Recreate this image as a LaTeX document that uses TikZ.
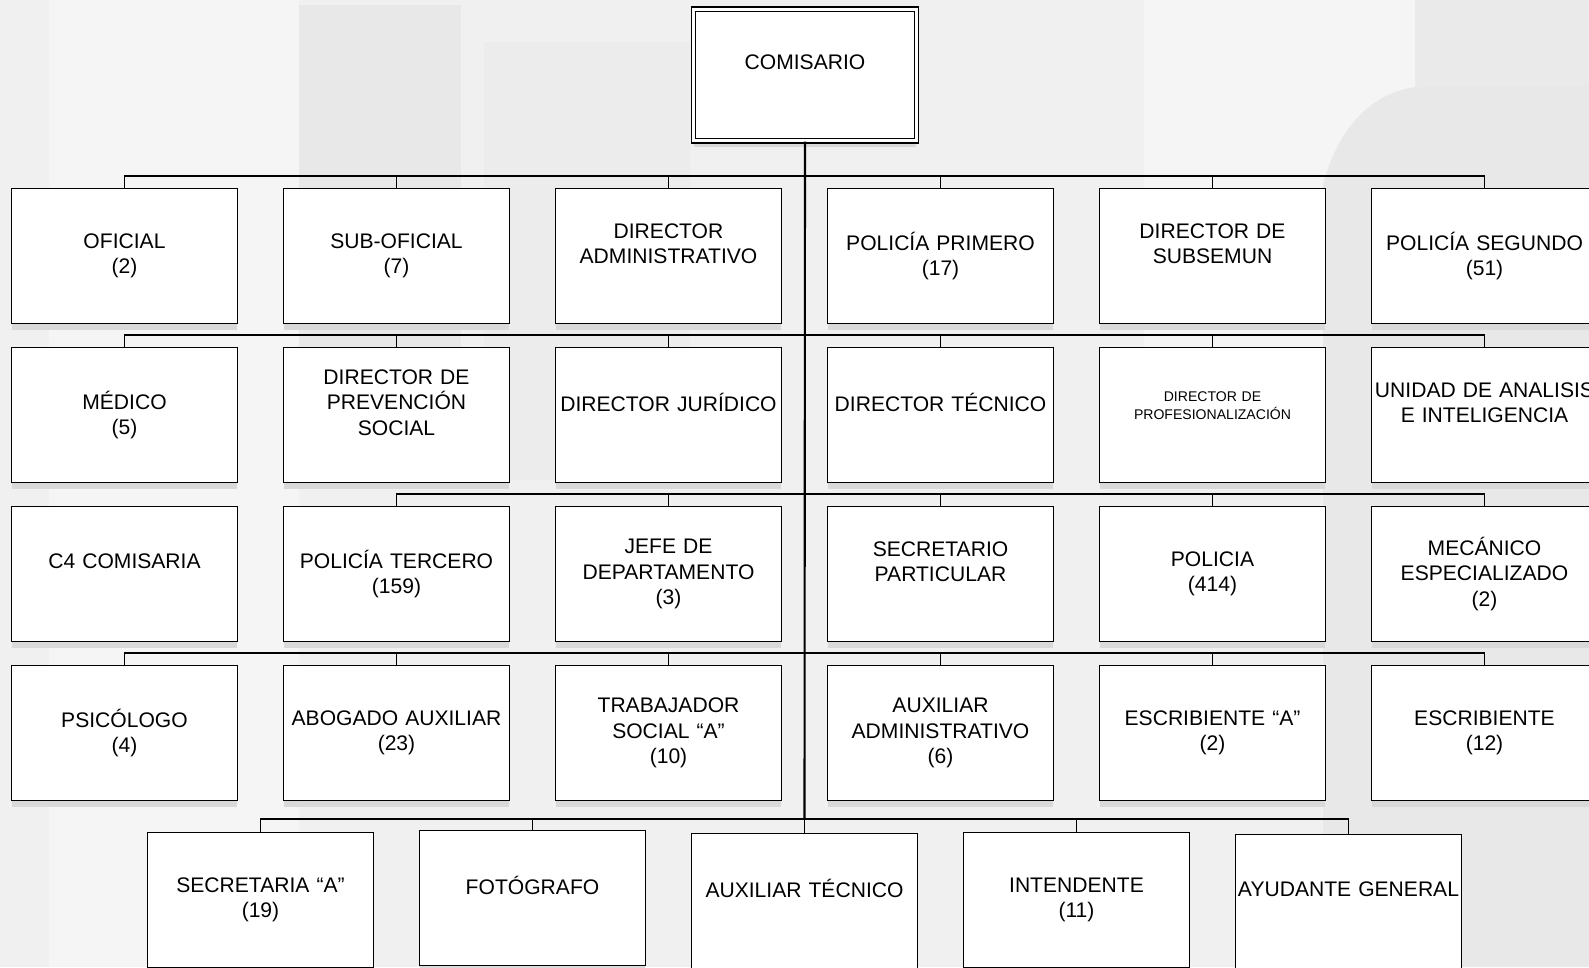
\documentclass[tikz,border=0pt]{standalone}
\usepackage{fontspec}
\setmainfont{Liberation Sans}
\usepackage{xcolor}
\usetikzlibrary{shadows}
\definecolor{fondo}{HTML}{F0F0F0}
\definecolor{fondoclaro}{HTML}{F5F5F5}
\definecolor{fondoosc}{HTML}{E8E8E8}
\tikzset{
  puesto/.style={
    draw,
    line width=0.8pt,
    fill=white,
    minimum width=4.52cm,
    minimum height=2.7cm,
    text width=4.52cm,
    align=center,
    inner sep=0pt,
    font=\fontsize{12pt}{14.4pt}\selectfont,
    drop shadow={shadow xshift=0pt, shadow yshift=-0.13cm, fill=black!15, opacity=1}
  },
}
\tikzset{
  jefe/.style={
    puesto,
    double,
    line width=0.6pt,
    double distance=1.7pt,
    minimum width=4.45cm,
    minimum height=2.64cm,
    text width=4.4cm
  },
  chico/.style={
    font=\fontsize{8pt}{10.6pt}\selectfont
  },
  bus/.style={
    line width=0.6pt
  },
  eje/.style={
    line width=1.2pt
  }
}

\begin{document}
\begin{tikzpicture}[x=0.02cm,y=-0.02cm]

         \useasboundingbox (0,0) rectangle (1589,967);
         \clip (0,0) rectangle (1589,967);

         % fondo
         \fill[fondo] (0,0) rectangle (1589,967);
         \fill[fondoclaro] (49,0) rectangle (299,967);
         \fill[fondoosc] (299,5) rectangle (461,480);
         \fill[fondoosc!50!fondo] (484,42) rectangle (690,480);
         \fill[fondoclaro] (1144,0) rectangle (1415,480);
         \fill[fondoosc!70!fondo] (1415,0) rectangle (1589,86);
         \fill[fondoosc] (1323,967) -- (1323,185) .. controls (1340,120) and (1380,86) .. (1430,86) -- (1589,86) -- (1589,967) -- cycle;

         \node[jefe] (comisario) at (805,75) {COMISARIO\\~};

         \node[puesto] (oficial) at (124.5,256) {OFICIAL\\(2)};
         \node[puesto] (suboficial) at (396.5,256) {SUB-OFICIAL\\(7)};
         \node[puesto] (diradmin) at (668.5,256) {DIRECTOR\\ADMINISTRATIVO\\~};
         \node[puesto] (polprimero) at (940.5,256) {POLICÍA PRIMERO\\(17)};
         \node[puesto] (dirsubsemun) at (1212.5,256) {DIRECTOR DE\\SUBSEMUN\\~};
         \node[puesto] (polsegundo) at (1484.5,256) {POLICÍA SEGUNDO\\(51)};

         \node[puesto] (medico) at (124.5,415) {MÉDICO\\(5)};
         \node[puesto] (dirprevencion) at (396.5,415) {DIRECTOR DE\\PREVENCIÓN\\SOCIAL\\~};
         \node[puesto] (dirjuridico) at (668.5,415) {DIRECTOR JURÍDICO\\~};
         \node[puesto] (dirtecnico) at (940.5,415) {DIRECTOR TÉCNICO\\~};
         \node[puesto,chico] (dirprof) at (1212.5,415) {DIRECTOR DE\\PROFESIONALIZACIÓN\\~};
         \node[puesto] (unidad) at (1484.5,415) {UNIDAD DE ANALISIS\\E INTELIGENCIA\\~};

         \node[puesto] (cfour) at (124.5,574) {C4 COMISARIA\\~};
         \node[puesto] (poltercero) at (396.5,574) {POLICÍA TERCERO\\(159)};
         \node[puesto] (jefedepto) at (668.5,574) {JEFE DE\\DEPARTAMENTO\\(3)};
         \node[puesto] (secpart) at (940.5,574) {SECRETARIO\\PARTICULAR\\~};
         \node[puesto] (policia) at (1212.5,574) {POLICIA\\(414)};
         \node[puesto] (mecanico) at (1484.5,574) {MECÁNICO\\ESPECIALIZADO\\(2)};

         \node[puesto] (psicologo) at (124.5,733) {PSICÓLOGO\\(4)};
         \node[puesto] (abogado) at (396.5,733) {ABOGADO AUXILIAR\\(23)};
         \node[puesto] (trabajador) at (668.5,733) {TRABAJADOR\\SOCIAL “A”\\(10)};
         \node[puesto] (auxadmin) at (940.5,733) {AUXILIAR\\ADMINISTRATIVO\\(6)};
         \node[puesto] (escribienteA) at (1212.5,733) {ESCRIBIENTE “A”\\(2)};
         \node[puesto] (escribiente) at (1484.5,733) {ESCRIBIENTE\\(12)};

         \node[puesto] (secretaria) at (260.5,900) {SECRETARIA “A”\\(19)};
         \node[puesto] (fotografo) at (532.5,898) {FOTÓGRAFO\\~};
         \node[puesto] (auxtecnico) at (804.5,901) {AUXILIAR TÉCNICO\\~};
         \node[puesto] (intendente) at (1076.5,900) {INTENDENTE\\(11)};
         \node[puesto] (ayudante) at (1348.5,902) {AYUDANTE GENERAL\\~};

         \coordinate (bus1) at (0,176);
         \coordinate (bus2) at (0,335);
         \coordinate (bus3) at (0,494);
         \coordinate (bus4) at (0,653);
         \coordinate (busbaja) at (804.5,819);

         \draw[eje] (comisario.south) -- (busbaja);

         \draw[bus] (oficial.north) -- (oficial.north |- bus1) -- (polsegundo.north |- bus1) -- (polsegundo.north);
         \draw[bus] (suboficial.north) -- (suboficial.north |- bus1);
         \draw[bus] (diradmin.north) -- (diradmin.north |- bus1);
         \draw[bus] (polprimero.north) -- (polprimero.north |- bus1);
         \draw[bus] (dirsubsemun.north) -- (dirsubsemun.north |- bus1);

         \draw[bus] (medico.north) -- (medico.north |- bus2) -- (unidad.north |- bus2) -- (unidad.north);
         \draw[bus] (dirprevencion.north) -- (dirprevencion.north |- bus2);
         \draw[bus] (dirjuridico.north) -- (dirjuridico.north |- bus2);
         \draw[bus] (dirtecnico.north) -- (dirtecnico.north |- bus2);
         \draw[bus] (dirprof.north) -- (dirprof.north |- bus2);

         \draw[bus] (poltercero.north) -- (poltercero.north |- bus3) -- (mecanico.north |- bus3) -- (mecanico.north);
         \draw[bus] (jefedepto.north) -- (jefedepto.north |- bus3);
         \draw[bus] (secpart.north) -- (secpart.north |- bus3);
         \draw[bus] (policia.north) -- (policia.north |- bus3);

         \draw[bus] (psicologo.north) -- (psicologo.north |- bus4) -- (escribiente.north |- bus4) -- (escribiente.north);
         \draw[bus] (abogado.north) -- (abogado.north |- bus4);
         \draw[bus] (trabajador.north) -- (trabajador.north |- bus4);
         \draw[bus] (auxadmin.north) -- (auxadmin.north |- bus4);
         \draw[bus] (escribienteA.north) -- (escribienteA.north |- bus4);

         \draw[bus] (secretaria.north) -- (secretaria.north |- busbaja) -- (ayudante.north |- busbaja) -- (ayudante.north);
         \draw[bus] (fotografo.north) -- (fotografo.north |- busbaja);
         \draw[bus] (auxtecnico.north) -- (busbaja);
         \draw[bus] (intendente.north) -- (intendente.north |- busbaja);

\end{tikzpicture}
\end{document}
